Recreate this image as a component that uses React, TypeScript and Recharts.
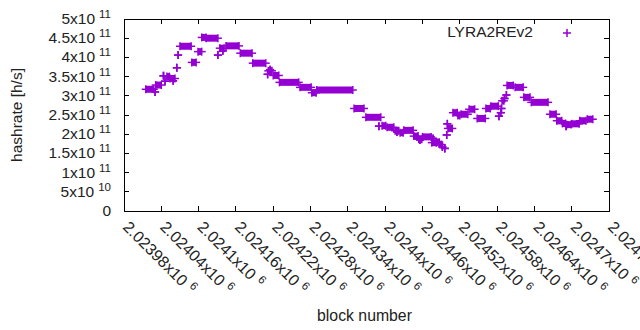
import { ScatterChart, Scatter, XAxis, YAxis, ErrorBar, ReferenceArea, Legend, Label } from "recharts";

const CHART_W = 640;
const CHART_H = 330;
const MARGIN = { top: 19, right: 31, bottom: 0, left: 0 };
const PLOT_LEFT = 124;
const PLOT_BOTTOM = 211;
const PLOT_RIGHT = CHART_W - MARGIN.right;
const PURPLE = "#9400d3";
const FONT = "'Liberation Sans', Arial, sans-serif";

// each run of blocks at the same hashrate: first block, last block, value
const blockStart = [
    2024015, 2024030, 2024031, 2024046, 2024043, 2024049, 2024054, 2024059, 2024065, 2024067,
    2024070, 2024089, 2024099, 2024105, 2024112, 2024131, 2024134, 2024139, 2024144, 2024167,
    2024187, 2024212, 2024215, 2024211, 2024220, 2024230, 2024263, 2024282, 2024290, 2024350,
    2024369, 2024390, 2024395, 2024403, 2024416, 2024419, 2024424, 2024430, 2024446, 2024456,
    2024454, 2024460, 2024477, 2024475, 2024483, 2024488, 2024492, 2024496, 2024499, 2024500,
    2024501, 2024509, 2024517, 2024522, 2024535, 2024548, 2024562, 2024570, 2024583, 2024586,
    2024587, 2024588, 2024592, 2024595, 2024596, 2024609, 2024623, 2024635, 2024665, 2024676,
    2024685, 2024691, 2024692, 2024700, 2024713, 2024725,
];
const blockEnd = [
    2024028, 2024030, 2024040, 2024046, 2024044, 2024053, 2024062, 2024059, 2024065, 2024067,
    2024088, 2024096, 2024105, 2024112, 2024131, 2024131, 2024141, 2024139, 2024165, 2024186,
    2024208, 2024218, 2024215, 2024211, 2024229, 2024261, 2024281, 2024289, 2024348, 2024366,
    2024393, 2024390, 2024401, 2024414, 2024422, 2024419, 2024429, 2024445, 2024453, 2024456,
    2024459, 2024474, 2024477, 2024482, 2024487, 2024491, 2024492, 2024496, 2024499, 2024500,
    2024508, 2024516, 2024520, 2024533, 2024544, 2024561, 2024569, 2024582, 2024583, 2024586,
    2024587, 2024591, 2024592, 2024595, 2024606, 2024622, 2024633, 2024662, 2024675, 2024684,
    2024690, 2024691, 2024699, 2024712, 2024723, 2024734,
];
const hashrate = [
    3.17e11, 3.10e11, 3.28e11, 3.38e11, 3.52e11, 3.50e11, 3.45e11, 3.39e11, 3.73e11, 4.06e11,
    4.29e11, 3.87e11, 4.15e11, 4.52e11, 4.50e11, 4.06e11, 4.24e11, 4.17e11, 4.30e11, 4.11e11,
    3.85e11, 3.65e11, 3.68e11, 3.56e11, 3.53e11, 3.35e11, 3.22e11, 3.08e11, 3.15e11, 2.67e11,
    2.44e11, 2.21e11, 2.22e11, 2.18e11, 2.09e11, 2.06e11, 2.04e11, 2.10e11, 1.95e11, 1.85e11,
    1.87e11, 1.93e11, 1.89e11, 1.78e11, 1.79e11, 1.73e11, 1.67e11, 1.63e11, 1.98e11, 2.27e11,
    2.15e11, 2.56e11, 2.49e11, 2.52e11, 2.65e11, 2.41e11, 2.67e11, 2.73e11, 2.47e11, 2.56e11,
    2.67e11, 2.87e11, 2.93e11, 3.02e11, 3.27e11, 3.22e11, 2.96e11, 2.83e11, 2.52e11, 2.35e11,
    2.28e11, 2.21e11, 2.25e11, 2.27e11, 2.35e11, 2.39e11,
];

const xTicks = [
    2023980, 2024040, 2024100, 2024160, 2024220, 2024280, 2024340,
    2024400, 2024460, 2024520, 2024580, 2024640, 2024700, 2024760,
];
const yTicks = [0, 5e10, 1e11, 1.5e11, 2e11, 2.5e11, 3e11, 3.5e11, 4e11, 4.5e11, 5e11];
const xDomain = [2023980, 2024760];
const yDomain = [0, 5e11];

const runStarts = blockStart.map((b, i) => ({ block: b, rate: hashrate[i], span: [0, blockEnd[i] - b] }));
const runEnds = blockEnd.map((b, i) => ({ block: b, rate: hashrate[i] }));

function sci(v: number) {
    if (v === 0) return { m: "0", e: "" };
    const e = Math.floor(Math.log10(v) + 1e-9);
    const m = parseFloat((v / Math.pow(10, e)).toPrecision(6));
    return { m: `${m}x10`, e: String(e) };
}

const Plus = (props: any) => {
    const { cx, cy } = props;
    if (cx == null || cy == null) return null;
    return (
        <g stroke={PURPLE} strokeWidth={1.5}>
            <line x1={cx - 4} x2={cx + 4} y1={cy} y2={cy} />
            <line x1={cx} x2={cx} y1={cy - 4} y2={cy + 4} />
        </g>
    );
};

const YTick = ({ x, y, payload }: any) => {
    const { m, e } = sci(payload.value);
    return (
        <g>
            <line x1={PLOT_LEFT} x2={PLOT_LEFT + 5} y1={y} y2={y} stroke="#000" shapeRendering="crispEdges" />
            <line x1={PLOT_RIGHT - 5} x2={PLOT_RIGHT} y1={y} y2={y} stroke="#000" shapeRendering="crispEdges" />
            <text x={x} y={y + 5} textAnchor="end" fontFamily={FONT} fontSize={15.5} fill="#222">
                {m}
                {e && <tspan dx={4} dy={-6} fontSize={11.5}>{e}</tspan>}
            </text>
        </g>
    );
};

const XTick = ({ x, payload }: any) => {
    const { m, e } = sci(payload.value);
    const ax = x - 2;
    const ay = PLOT_BOTTOM + 17;
    return (
        <g>
            <line x1={x} x2={x} y1={PLOT_BOTTOM} y2={PLOT_BOTTOM - 5} stroke="#000" shapeRendering="crispEdges" />
            <line x1={x} x2={x} y1={MARGIN.top} y2={MARGIN.top + 5} stroke="#000" shapeRendering="crispEdges" />
            <text x={ax} y={ay} transform={`rotate(45 ${ax} ${ay})`} fontFamily={FONT} fontSize={16} fill="#222">
                {m}
                <tspan dx={5} dy={-6} fontSize={11.5}>{e}</tspan>
            </text>
        </g>
    );
};

const YTitle = ({ viewBox }: any) => {
    const tx = 22;
    const ty = viewBox.y + viewBox.height / 2;
    return (
        <text x={tx} y={ty} transform={`rotate(-90 ${tx} ${ty})`} textAnchor="middle" fontFamily={FONT} fontSize={15.5} fill="#222">
            hashrate [h/s]
        </text>
    );
};

const XTitle = ({ viewBox }: any) => (
    <text x={viewBox.x + viewBox.width / 2 - 2} y={CHART_H - 9} textAnchor="middle" fontFamily={FONT} fontSize={15.8} fill="#222">
        block number
    </text>
);

const renderLegend = () => (
    <svg width={150} height={24}>
        <text x={103} y={15} textAnchor="end" fontFamily={FONT} fontSize={15.5} fill="#222">LYRA2REv2</text>
        <Plus cx={137} cy={11} />
    </svg>
);

export default function App() {
    return (
        <div style={{ position: "absolute", left: 0, top: 0 }}>
            <ScatterChart width={CHART_W} height={CHART_H} margin={MARGIN}>
                <XAxis
                    dataKey="block"
                    type="number"
                    domain={xDomain}
                    ticks={xTicks}
                    interval={0}
                    allowDataOverflow
                    height={CHART_H - PLOT_BOTTOM}
                    axisLine={false}
                    tickLine={false}
                    tickSize={0}
                    tickMargin={0}
                    tick={<XTick />}
                >
                    <Label content={<XTitle />} />
                </XAxis>
                <YAxis
                    dataKey="rate"
                    type="number"
                    domain={yDomain}
                    ticks={yTicks}
                    interval={0}
                    allowDataOverflow
                    width={PLOT_LEFT}
                    axisLine={false}
                    tickLine={false}
                    tickSize={0}
                    tickMargin={13}
                    tick={<YTick />}
                >
                    <Label content={<YTitle />} />
                </YAxis>
                <ReferenceArea
                    x1={xDomain[0]}
                    x2={xDomain[1]}
                    y1={yDomain[0]}
                    y2={yDomain[1]}
                    fill="none"
                    stroke="#000"
                    strokeWidth={1}
                    fillOpacity={0}
                    shapeRendering="crispEdges"
                />
                <Legend
                    content={renderLegend}
                    layout="horizontal"
                    verticalAlign="middle"
                    wrapperStyle={{ position: "absolute", left: 430, top: 22, width: 150, height: 24 }}
                />
                <Scatter data={runStarts} shape={<Plus />} isAnimationActive={false}>
                    <ErrorBar
                        dataKey="span"
                        direction="x"
                        width={0}
                        stroke={PURPLE}
                        strokeWidth={7}
                        isAnimationActive={false}
                    />
                </Scatter>
                <Scatter data={runEnds} shape={<Plus />} isAnimationActive={false} />
            </ScatterChart>
        </div>
    );
}
